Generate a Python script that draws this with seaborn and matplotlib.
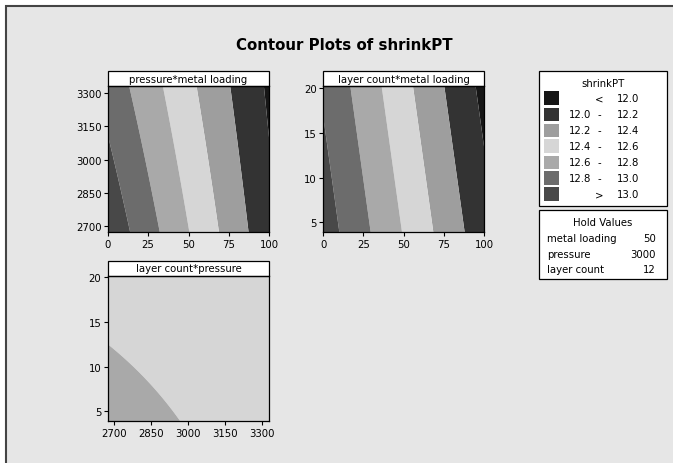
import numpy as np
import matplotlib
matplotlib.use("Agg")
import matplotlib.pyplot as plt
from matplotlib.patches import Rectangle
import seaborn as sns

# --- fitted response surface for shrinkPT (coded about the hold values) ---
HOLD = {"metal loading": 50, "pressure": 3000, "layer count": 12}
B0 = 12.525          # intercept at hold values
B_METAL = -0.01026
B_PRESS = -0.000242
B_LAYER = -0.00798
B_METAL_PRESS = 2.02e-6
B_PRESS2 = 2.0e-8
B_PRESS_LAYER = 1.0e-5

# contour bands and their grays (Minitab style)
LEVELS = [11.0, 12.0, 12.2, 12.4, 12.6, 12.8, 13.0, 14.0]
BAND_COLORS = ["#161616", "#333333", "#9e9e9e", "#d6d6d6", "#a9a9a9", "#6c6c6c", "#484848"]
LEGEND_LOW = ["", "12.0", "12.2", "12.4", "12.6", "12.8", ""]
LEGEND_SEP = ["<", "-", "-", "-", "-", "-", ">"]
LEGEND_HIGH = ["12.0", "12.2", "12.4", "12.6", "12.8", "13.0", "13.0"]

METAL_RANGE = (0, 100)
PRESS_RANGE = (2674, 3328)
LAYER_RANGE = (3.9, 20.2)
METAL_TICKS = [0, 25, 50, 75, 100]
PRESS_TICKS = [2700, 2850, 3000, 3150, 3300]
LAYER_TICKS = [5, 10, 15, 20]


def shrink(m, p, l):
    x1 = m - HOLD["metal loading"]
    x2 = p - HOLD["pressure"]
    x3 = l - HOLD["layer count"]
    return (B0 + B_METAL * x1 + B_PRESS * x2 + B_LAYER * x3
            + B_METAL_PRESS * x1 * x2 + B_PRESS2 * x2 ** 2 + B_PRESS_LAYER * x2 * x3)


sns.set_theme(style="white")
plt.rcParams["font.family"] = ["DejaVu Sans"]
plt.rcParams["text.color"] = "black"
BG = "#e6e6e6"

fig = plt.figure(figsize=(6.73, 4.64), dpi=100, facecolor="white")
fig.patches.append(Rectangle((6 / 673, -0.1), 1.2, 1 - 7 / 464 + 0.1, transform=fig.transFigure,
                             facecolor=BG, edgecolor="#444444", lw=1.5, zorder=-10))

W, H = 673, 464


def add_panel(x0, y0, x1, y1, title, xr, yr, xt, yt, fx):
    ax = fig.add_axes([x0 / W, 1 - y1 / H, (x1 - x0) / W, (y1 - y0) / H])
    gx = np.linspace(xr[0], xr[1], 300)
    gy = np.linspace(yr[0], yr[1], 300)
    X, Y = np.meshgrid(gx, gy)
    Z = shrink(*fx(X, Y))
    ax.contourf(X, Y, Z, levels=LEVELS, colors=BAND_COLORS, antialiased=True)
    ax.set_xlim(xr)
    ax.set_ylim(yr)
    ax.set_xticks(xt)
    ax.set_yticks(yt)
    ax.tick_params(direction="out", length=3, width=0.8, labelsize=7.3, pad=1.5,
                   bottom=True, left=True, colors="black")
    for s in ax.spines.values():
        s.set_color("black")
        s.set_linewidth(0.9)
    sh = 15 / (y1 - y0)
    ax.add_patch(Rectangle((0, 1), 1, sh, transform=ax.transAxes, clip_on=False,
                           facecolor="white", edgecolor="black", lw=0.9))
    ax.text(0.5, 1 + sh / 2, title, transform=ax.transAxes, ha="center", va="center",
            fontsize=7.3, color="black")
    return ax


add_panel(107.7, 87.3, 269.3, 233.3, "pressure*metal loading", METAL_RANGE, PRESS_RANGE,
          METAL_TICKS, PRESS_TICKS, lambda X, Y: (X, Y, HOLD["layer count"]))
add_panel(323.3, 87.3, 484.0, 233.3, "layer count*metal loading", METAL_RANGE, LAYER_RANGE,
          METAL_TICKS, LAYER_TICKS, lambda X, Y: (X, HOLD["pressure"], Y))
add_panel(107.7, 276.7, 269.3, 422.3, "layer count*pressure", PRESS_RANGE, LAYER_RANGE,
          PRESS_TICKS, LAYER_TICKS, lambda X, Y: (HOLD["metal loading"], X, Y))

fig.text(344 / W, 1 - 45 / H, "Contour Plots of shrinkPT", ha="center", va="center",
         fontsize=10.8, fontweight="bold", color="black")

# legend box
fig.patches.append(Rectangle((538.7 / W, 1 - 206.7 / H), 128.6 / W, 134.7 / H,
                             transform=fig.transFigure, facecolor="white",
                             edgecolor="black", lw=0.9))
fig.text(603 / W, 1 - 84 / H, "shrinkPT", ha="center", va="center", fontsize=7.3)
for i, c in enumerate(BAND_COLORS):
    yc = 99 + i * 16
    fig.patches.append(Rectangle((544 / W, 1 - (yc + 6.5) / H), 15 / W, 13 / H,
                                 transform=fig.transFigure, facecolor=c, edgecolor="none"))
    if LEGEND_LOW[i]:
        fig.text(569 / W, 1 - yc / H, LEGEND_LOW[i], ha="left", va="center", fontsize=7.3)
    fig.text(599 / W, 1 - yc / H, LEGEND_SEP[i], ha="center", va="center", fontsize=7.3)
    fig.text(617 / W, 1 - yc / H, LEGEND_HIGH[i], ha="left", va="center", fontsize=7.3)

# hold values box
fig.patches.append(Rectangle((538.7 / W, 1 - 280 / H), 128.6 / W, 69.3 / H,
                             transform=fig.transFigure, facecolor="white",
                             edgecolor="black", lw=0.9))
fig.text(603 / W, 1 - 223 / H, "Hold Values", ha="center", va="center", fontsize=7.3)
for i, (k, v) in enumerate(HOLD.items()):
    yc = 239 + i * 15.5
    fig.text(547 / W, 1 - yc / H, k, ha="left", va="center", fontsize=7.3)
    fig.text(656 / W, 1 - yc / H, str(v), ha="right", va="center", fontsize=7.3)

fig.savefig("out.png", dpi=100, facecolor=fig.get_facecolor())
